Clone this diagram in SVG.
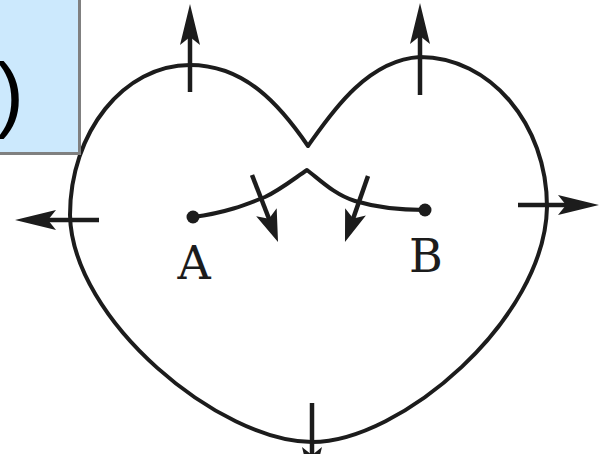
<svg xmlns="http://www.w3.org/2000/svg" width="608" height="454" viewBox="0 0 608 454">
<style>
.ln{fill:none;stroke:#1c1c1c;stroke-width:4;stroke-linecap:round;stroke-linejoin:round}
.sh{fill:none;stroke:#1c1c1c;stroke-width:4.5}
.lbl{font-family:"DejaVu Serif","Liberation Serif",serif;font-size:46px;fill:#1c1c1c;text-anchor:middle}
.dot{fill:#1c1c1c}
</style>
<defs>
<marker id="ah" viewBox="-44 -11 46 22" refX="-25" refY="0" markerWidth="46" markerHeight="22" markerUnits="userSpaceOnUse" orient="auto" overflow="visible">
<path d="M0,0 L-41,-10 L-33,0 L-41,10 Z" fill="#1c1c1c"/>
</marker>
<marker id="ahs" viewBox="-36 -12 38 24" refX="-18" refY="0" markerWidth="38" markerHeight="24" markerUnits="userSpaceOnUse" orient="auto" overflow="visible">
<path d="M0,0 L-32,-11 L-25,0 L-32,11 Z" fill="#1c1c1c"/>
</marker>
</defs>
<rect width="608" height="454" fill="#ffffff"/>
<g id="heart">
<path class="ln" d="M308,146 C280,105 245,65 190,65 C124,65 70,132 70,215 C72,320 220,442 312,442 C400,442 545,320 547,207 C547,124 490,57 420,57 C365,60 328,118 308,146 Z"/>
</g>
<g id="path-AB">
<path class="ln" d="M193,217 C225,213 245,205 265,197 C280,190 295,178 307,170 C320,180 335,195 355,201 C375,207 400,210 425,210"/>
</g>
<g id="point-A">
<circle class="dot" cx="193" cy="217" r="6.5"/>
<text class="lbl" x="194" y="279">A</text>
</g>
<g id="point-B">
<circle class="dot" cx="425" cy="210" r="6.5"/>
<text class="lbl" x="426" y="272">B</text>
</g>
<g id="connectors">
<line class="sh" x1="190" y1="92" x2="190" y2="29" marker-end="url(#ah)"/>
<line class="sh" x1="420" y1="95" x2="420" y2="28" marker-end="url(#ah)"/>
<line class="sh" x1="99" y1="220" x2="40" y2="220" marker-end="url(#ah)"/>
<line class="sh" x1="518" y1="205" x2="574" y2="205" marker-end="url(#ah)"/>
<line class="sh" x1="312" y1="403" x2="312" y2="463" marker-end="url(#ah)"/>
<line class="sh" x1="252" y1="175" x2="271.5" y2="225.2" marker-end="url(#ahs)"/>
<line class="sh" x1="368" y1="176" x2="350.9" y2="225" marker-end="url(#ahs)"/>
</g>
<g id="label-box">
<rect x="-10" y="-10" width="89.5" height="163.5" fill="#cce9fd" stroke="#808080" stroke-width="3"/>
<text x="-4" y="122" font-family="Liberation Sans, Arial, sans-serif" font-size="84" fill="#000000">)</text>
</g>
</svg>
